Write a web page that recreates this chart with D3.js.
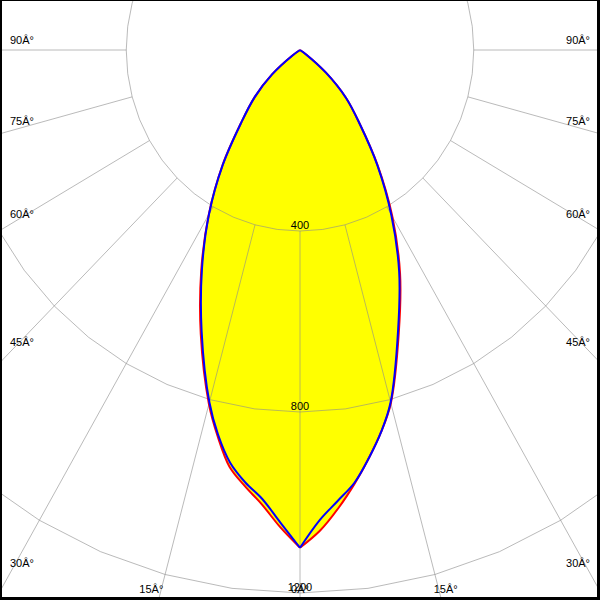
<!DOCTYPE html>
<html>
<head>
<meta charset="utf-8">
<script src="https://cdn.jsdelivr.net/npm/d3@7"></script>
<style>
  html, body { margin: 0; padding: 0; background: #fff; }
  svg { display: block; }
  text { font-family: "Liberation Sans", Arial, sans-serif; font-size: 11px; fill: #000; }
</style>
</head>
<body>
<svg id="chart" width="600" height="600"></svg>
<script>
// ---- data (gamma angles in degrees, intensities in cd) ----
const angles = [0, 2.5, 5, 7.5, 10, 12.5, 15, 20, 25, 30, 35, 40, 45, 50, 55, 60, 65, 70, 75, 80, 85, 90];
// red curve: C0 (right half) / C180 (left half)
const c0   = [1100, 1063, 1016, 966, 915, 864, 808, 665, 545, 425, 312, 215, 150, 78, 18, 0, 0, 0, 0, 0, 0, 0];
const c180 = [1100, 1055, 1008, 972, 935, 875, 810, 668, 538, 420, 311, 212, 148, 84, 22, 0, 0, 0, 0, 0, 0, 0];
// blue curve: C90 (right half) / C270 (left half)
const c90  = [1100, 1040, 1000, 964, 915, 864, 806, 660, 540, 420, 310, 215, 150, 78, 18, 0, 0, 0, 0, 0, 0, 0];
const c270 = [1100, 1045, 996, 964, 926, 871, 806, 662, 534, 419, 310, 212, 148, 84, 22, 0, 0, 0, 0, 0, 0, 0];
const ringValues = [400, 800, 1200];
const ringLabels = ["400", "800", "1200"];
const spokeAngles = [0, 15, 30, 45, 60, 75, 90];
const spokeLabels = ["0Â°", "15Â°", "30Â°", "45Â°", "60Â°", "75Â°", "90Â°"];

// ---- layout ----
const W = 600, H = 600;
const cx = 300, cy = 50;
const aspect = 0.96; // horizontal compression of the polar plot
const r = d3.scaleLinear().domain([0, 1200]).range([0, 543]);
const rad = d => d * Math.PI / 180;
// side: -1 = left, +1 = right; angle measured from downward vertical
const px = (deg, rr, side) => cx + side * aspect * rr * Math.sin(rad(deg));
const py = (deg, rr) => cy + rr * Math.cos(rad(deg));

const svg = d3.select("#chart");

// ---- curves (fill) ----
function halfPoints(vals, side) {
  return angles.map((a, i) => [px(a, r(vals[i]), side), py(a, r(vals[i]))]);
}
const line = d3.line().curve(d3.curveCatmullRom.alpha(0.5));
function curvePath(leftVals, rightVals) {
  const left = halfPoints(leftVals, -1).slice().reverse(); // 90 -> 0
  const right = halfPoints(rightVals, 1);                  // 0 -> 90
  return line(left) + line(right);
}
const redPath = curvePath(c180, c0);
const bluePath = curvePath(c270, c90);

svg.append("path").attr("d", redPath).attr("fill", "#ffff00").attr("stroke", "none");
svg.append("path").attr("d", bluePath).attr("fill", "#ffff00").attr("stroke", "none");

// ---- grid ----
const grid = svg.append("g").attr("fill", "none").attr("stroke", "#8c8c8c").attr("stroke-opacity", 0.6).attr("stroke-width", 1);
const ringAngles = d3.range(0, 360 + 7.5, 7.5);
ringValues.forEach(v => {
  const pts = ringAngles.map(a => [cx + aspect * r(v) * Math.sin(rad(a)), cy + r(v) * Math.cos(rad(a))]);
  grid.append("path").attr("d", d3.line()(pts));
});
spokeAngles.forEach(a => {
  [-1, 1].forEach(side => {
    if (a === 0 && side === 1) return;
    grid.append("line")
      .attr("x1", px(a, r(400), side)).attr("y1", py(a, r(400)))
      .attr("x2", px(a, 2000, side)).attr("y2", py(a, 2000));
  });
});

// ---- curve outlines ----
svg.append("path").attr("d", redPath).attr("fill", "none").attr("stroke", "#ff0000").attr("stroke-width", 2);
svg.append("path").attr("d", bluePath).attr("fill", "none").attr("stroke", "#0000ff").attr("stroke-width", 2);

// ---- ring labels ----
ringValues.forEach((v, i) => {
  svg.append("text").attr("x", cx).attr("y", cy + r(v) - 2)
    .attr("text-anchor", "middle").text(ringLabels[i]);
});

// ---- spoke labels ----
const bottomBase = 593;
spokeAngles.forEach((a, i) => {
  if (a === 0) {
    svg.append("text").attr("x", cx).attr("y", bottomBase).attr("text-anchor", "middle").text(spokeLabels[i]);
    return;
  }
  [-1, 1].forEach(side => {
    const edgeX = side < 0 ? 10 : 590;
    const t = Math.abs(edgeX - cx) / (aspect * Math.sin(rad(a)));
    const yEdge = cy + t * Math.cos(rad(a));
    if (yEdge - 6 <= bottomBase) {
      svg.append("text").attr("x", edgeX).attr("y", yEdge - 6)
        .attr("text-anchor", side < 0 ? "start" : "end").text(spokeLabels[i]);
    } else {
      const tb = (bottomBase - cy) / Math.cos(rad(a));
      const xb = px(a, tb, side) + (side < 0 ? -9 : 6);
      svg.append("text").attr("x", xb).attr("y", bottomBase)
        .attr("text-anchor", "middle").text(spokeLabels[i]);
    }
  });
});

// ---- frame ----
const frame = svg.append("g").attr("fill", "#000");
frame.append("rect").attr("x", 0).attr("y", 0).attr("width", W).attr("height", 1);
frame.append("rect").attr("x", 0).attr("y", 0).attr("width", 2).attr("height", H);
frame.append("rect").attr("x", W - 3).attr("y", 0).attr("width", 3).attr("height", H);
frame.append("rect").attr("x", 0).attr("y", H - 3).attr("width", W).attr("height", 3);
</script>
</body>
</html>
